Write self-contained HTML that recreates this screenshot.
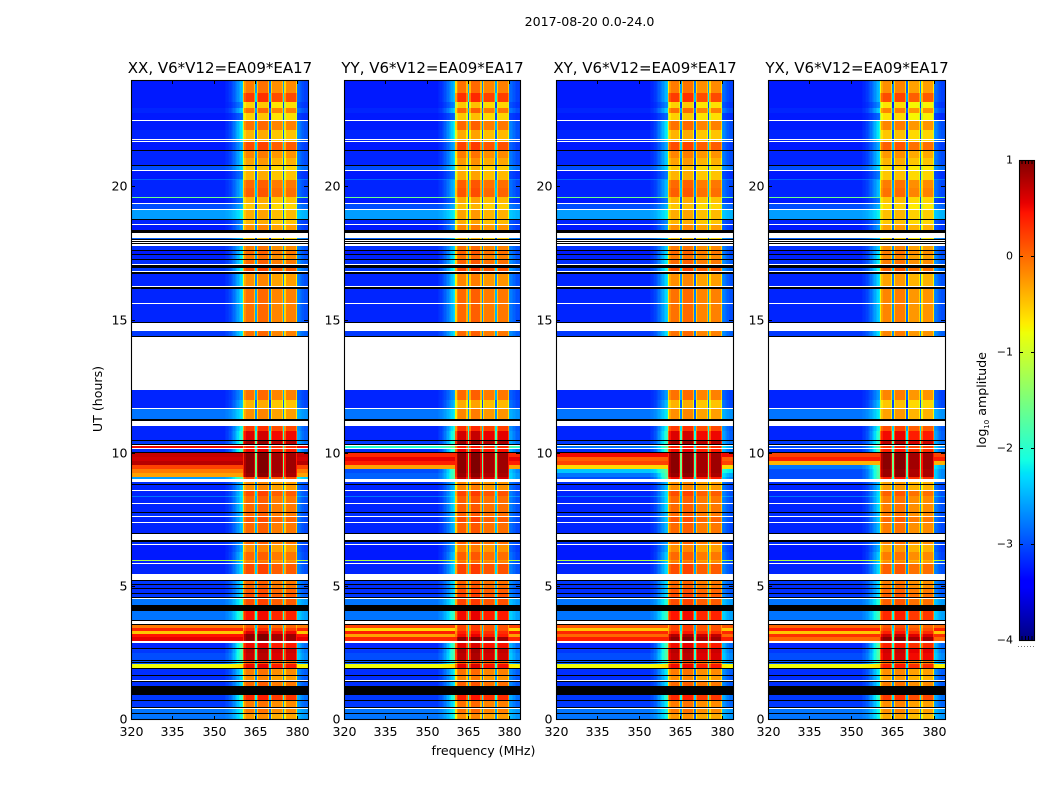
<!DOCTYPE html>
<html>
<head>
<meta charset="utf-8">
<title>2017-08-20 0.0-24.0</title>
<style>
html,body{margin:0;padding:0;background:#fff}
svg{display:block}
text{font-family:"DejaVu Sans","Liberation Sans",sans-serif;fill:#000}
</style>
</head>
<body>
<svg id="fig" xmlns="http://www.w3.org/2000/svg" width="1050" height="800" viewBox="0 0 1050 800">
<rect x="0" y="0" width="1050" height="800" fill="#fff"/>
<text x="589.5" y="26" font-size="12.6" text-anchor="middle">2017-08-20 0.0-24.0</text>
<text x="483.5" y="755" font-size="12.6" text-anchor="middle">frequency (MHz)</text>
<text x="102" y="399" font-size="12.6" text-anchor="middle" transform="rotate(-90 102 399)">UT (hours)</text>
<text x="986" y="400" font-size="12.6" text-anchor="middle" transform="rotate(-90 986 400)">log<tspan font-size="7" dy="3">10</tspan><tspan dy="-3"> amplitude</tspan></text>
</svg>
<script>
// Axis tick labels
const mhzTicks = [320, 335, 350, 365, 380];
const hourTicks = [0, 5, 10, 15, 20];
const ampTicks = [-4, -3, -2, -1, 0, 1];

// Panel titles
const panelTitles = ["XX, V6*V12=EA09*EA17", "YY, V6*V12=EA09*EA17", "XY, V6*V12=EA09*EA17", "YX, V6*V12=EA09*EA17"];

// Frequency channels are 0.5 MHz wide; UT is counted in 0.0375 h samples
const channelCount = 128;
const channelStartMHz = 320;
const channelWidthMHz = 0.5;
const sampleHours = 0.0375;

// Estimated rise of the noise floor toward the passband per channel (0..1)
const edgeLift = [
  0,0,0,0,0,0,0,0,0,0,0,0,0,0,0,0,
  0,0,0,0,0,0,0,0,0,0,0,0,0,0,0,0,
  0,0,0,0,0,0,0,0,0,0,0,0,0,0,0,0,
  0,0,0,0,0,0,0,0,0,0,0,0,0,0,0,0,
  0,0,0,0,.04,.07,.1,.15,.2,.27,.35,.43,.52,.6,.7,.8,
  .9,0,0,0,0,0,0,0,0,0,0,0,0,0,0,0,
  0,0,0,0,0,0,0,0,0,0,0,0,0,0,0,0,
  0,0,0,0,0,0,0,0,.45,.4,.35,.3,.25,.2,.2,.2
];

// Passband occupies channels 81..119: log amplitude offset per channel
const passFirstChannel = 81;
const passShape = [
  -.6,-.15,0,0,0,0,0,0,-.4,
  -2.5,
  -.4,.05,.05,.05,.05,.05,.05,.05,-.4,
  -2.7,
  -.5,-.1,-.1,-.1,-.1,-.1,-.1,-.1,-.4,
  -2.5,
  -.5,-.08,-.08,-.08,-.08,-.08,-.08,-.08,-.5
];

// UT sample at the top of each observed row, with floor, band-edge and passband log amplitude
const rowTop = [640,627,618,612,607,599,590,578,569,562,
  554,549,541,540,532,523,522,516,510,500,
  495,487,474,469,465,460,452,446,431,416,
  389,330,320,311,294,289,279,271,238,235,
  229,224,223,207,203,197,178,175,168,160,
  159,156,139,135,131,126,121,109,77,71,
  67,59,56,51,44,38,25,19,11,6];
const rowFloor = [-3.25,-3.25,-3.25,-3.2,-3.25,-3.25,-3.2,-3.25,-3.2,-3.2,
  -3,-3.25,-2.9,-3.2,-3.2,-1.6,-3.25,-3,-2.6,-3.2,
  -3.25,-2.9,-3.15,-3.25,-3.2,-3.15,-3.1,-3.2,-3.2,-3.2,
  -3.1,-3.2,-3.2,-2.8,-3.2,-3.2,-3.1,-3.15,-3.15,-3.2,
  -3.2,-2.8,-3.2,-3.15,-3.2,-3.2,-3.15,-3.25,-3.25,-1.2,
  -3.2,-3.2,-3.1,-3.15,-3.15,-3.1,-2.8,-2.8,-3.2,-3.1,
  -3,-2.95,-.8,-3.15,-3.15,-3.15,-3.1,-3.1,-2.8,-2.8];
const rowEdge = [-2.3,-2.3,-2.6,-2.2,-2.8,-2,-2,-2.4,-2.2,-2.2,
  -2.2,-2.7,-2.5,-2.3,-2.3,-1.6,-2.7,-2.4,-2.1,-2.6,
  -2.5,-2.3,-2.2,-2.1,-2,-2,-1.9,-2.1,-2.1,-2.2,
  -2.1,-2.5,-2.3,-2.1,-1.9,-1.7,-1.7,-1.6,-2.3,-2.3,
  -2.1,-2.1,-2.1,-2.3,-2.2,-2.3,-2.5,-2.4,-2.2,-1,
  -2.2,-2.1,-2.1,-2.2,-2.2,-2.1,-1.9,-1.7,-1.5,-1.5,
  -1.5,-1.6,-.6,-2,-2.1,-2.1,-1.7,-2,-2,-2];
const rowPass = [-.1,.25,-.55,-.05,-.55,-.05,-.4,.15,-.15,-.3,
  -.5,-.4,-.4,0,.05,-.4,-.4,-.5,-.35,-.4,
  -.2,-.5,-.1,0,-.1,0,.15,-.2,-.05,-.05,
  -.05,-.05,-.4,-.2,.25,.6,.85,.5,-.2,-.2,
  .15,0,0,0,.1,0,0,-.2,0,-.2,
  -.1,.15,0,0,.1,.15,.15,.45,.5,.75,
  .7,.1,.5,-.1,-.2,0,.35,-.1,-.1,-.25];

// Overall passband offset per polarisation
const panelPassShift = [0, .05, 0, -.1];

// Strong interference rows, which differ between polarisations
const rfiTop = [274,267,263,259,255,251,247,243,95,92,89,86,83];
const rfiLength = [2,4,4,4,4,4,4,2,3,3,3,3,4];
const rfiEdge = -1.5;
const rfiFloorXX = [.5,.7,.65,.75,.2,-.1,-.3,-2.6,-.1,.35,-.5,.45,.55];
const rfiFloorYY = [-2,.35,.55,.4,-.3,-3,-2.9,-2.9,.2,-.6,.4,-.3,.35];
const rfiFloorXY = [-2.8,.5,.05,.2,-.6,-2.4,-2.8,-3,.1,-.5,.35,0,.4];
const rfiFloorYX = [-3,.2,.4,-.4,-2.8,-3,-3,-3,0,.4,-.5,.3,0];
const rfiPassXX = [.4,.95,.95,.95,.95,.95,.9,.2,.1,.3,.6,.95,.95];
const rfiPassYY = [.4,.95,.95,.95,.95,.95,.9,.7,.2,.2,.4,.5,.95];
const rfiPassXY = [.4,.95,.95,.95,.95,.95,.9,.5,.2,.2,.4,.8,.95];
const rfiPassYX = [.3,.95,.95,.95,.95,.9,.9,.4,.1,.2,.4,.7,.95];

// Flagged rows with no data (white) and zero amplitude (black)
const whiteGapTop = [600,581,579,550,517,511,496,487,480,478,476,456,449,434,417,397,383,312,299,275,272,241,230,217,204,198,186,176,157,146,122,99,79,40,12];
const whiteGapLength = [1,1,1,1,1,1,1,5,1,1,2,1,1,1,1,8,53,1,5,1,1,3,1,1,1,1,6,1,1,6,1,3,2,1,1];
const blackGapTop = [570,555,501,490,481,479,477,470,466,461,455,448,433,398,384,301,280,276,268,236,208,187,180,140,136,132,127,123,115,100,96,72,60,58,52,45,39,34,20,13,7];
const blackGapLength = [1,1,1,3,1,1,1,1,1,1,3,2,2,1,1,2,1,1,1,1,1,1,2,1,1,1,1,1,6,1,1,1,1,1,1,1,1,9,1,1,1];

// Layout
const panelLeft = [131, 344, 556, 768];
const panelWidths = [177, 176, 177, 177];
const plotTop = 80, plotBottom = 720;
const xMin = 320, xMax = 384, yMax = 24;
const barLeft = 1019, barRight = 1035, barTop = 160, barBottom = 640;
const rfiFloors = [rfiFloorXX, rfiFloorYY, rfiFloorXY, rfiFloorYX];
const rfiPasses = [rfiPassXX, rfiPassYY, rfiPassXY, rfiPassYX];

const NS = "http://www.w3.org/2000/svg";
const fig = document.getElementById("fig");

function make(tag, attrs, parent) {
  const el = document.createElementNS(NS, tag);
  for (const k in attrs) el.setAttribute(k, attrs[k]);
  parent.appendChild(el);
  return el;
}
function xScale(left, width, mhz) { return left + (mhz - xMin) * width / (xMax - xMin); }
function yScale(hour) { return plotBottom - hour * (plotBottom - plotTop) / yMax; }
function ampScale(v) { return barBottom - (v + 4) * (barBottom - barTop) / 5; }

function jet(v) {
  const t = Math.max(0, Math.min(1, (v + 4) / 5));
  function lerp(pts) {
    for (let i = 1; i < pts.length; i++) {
      if (t <= pts[i][0]) {
        const a = pts[i - 1], b = pts[i];
        return a[1] + (b[1] - a[1]) * (t - a[0]) / (b[0] - a[0]);
      }
    }
    return pts[pts.length - 1][1];
  }
  const r = lerp([[0,0],[.35,0],[.66,1],[.89,1],[1,.5]]);
  const g = lerp([[0,0],[.125,0],[.375,1],[.64,1],[.91,0],[1,0]]);
  const b = lerp([[0,.5],[.11,1],[.34,1],[.65,0],[1,0]]);
  return "rgb(" + Math.round(r * 255) + "," + Math.round(g * 255) + "," + Math.round(b * 255) + ")";
}

function cellValue(ch, floor, edge, pass) {
  const p = ch - passFirstChannel;
  if (p >= 0 && p < passShape.length) return pass + passShape[p];
  return floor + Math.max(0, edge - floor) * edgeLift[ch];
}

function drawRow(group, left, width, topSample, length, floor, edge, pass) {
  const y0 = Math.round(yScale(topSample * sampleHours));
  const y1 = Math.round(yScale((topSample - length) * sampleHours));
  let ch = 0;
  while (ch < channelCount) {
    const value = cellValue(ch, floor, edge, pass);
    let end = ch + 1;
    while (end < channelCount && cellValue(end, floor, edge, pass) === value) end++;
    const x0 = Math.round(xScale(left, width, channelStartMHz + ch * channelWidthMHz));
    const x1 = Math.round(xScale(left, width, channelStartMHz + end * channelWidthMHz));
    if (x1 > x0) {
      const cell = make("rect", {x: x0, y: y0, width: x1 - x0, height: y1 - y0, fill: jet(value)}, group);
      
      
    }
    ch = end;
  }
}

function drawGap(group, left, width, topSample, length, color) {
  const y0 = Math.round(yScale(topSample * sampleHours));
  const y1 = Math.round(yScale((topSample - length) * sampleHours));
  const gap = make("rect", {x: left, y: y0, width: width, height: y1 - y0, fill: color}, group);
  
  
}

panelTitles.forEach(function (title, p) {
  const left = panelLeft[p];
  const width = panelWidths[p];
  const panel = make("g", {}, fig);
  
  

  const heat = make("g", {"shape-rendering": "crispEdges"}, panel);
  
  

  rowTop.forEach(function (top, r) {
    const next = r + 1 < rowTop.length ? rowTop[r + 1] : 0;
    drawRow(heat, left, width, top, top - next, rowFloor[r], rowEdge[r], rowPass[r] + panelPassShift[p]);
  });
  rfiTop.forEach(function (top, r) {
    drawRow(heat, left, width, top, rfiLength[r], rfiFloors[p][r], rfiEdge, rfiPasses[p][r]);
  });
  whiteGapTop.forEach(function (top, g) { drawGap(heat, left, width, top, whiteGapLength[g], "#fff"); });
  blackGapTop.forEach(function (top, g) { drawGap(heat, left, width, top, blackGapLength[g], "#000"); });

  const frame = make("rect", {x: left + .5, y: plotTop + .5, width: width, height: plotBottom - plotTop - 1, fill: "none", stroke: "#000", "stroke-width": 1.1}, panel);
  
  

  const ticks = make("g", {stroke: "#000", "stroke-width": 1, "shape-rendering": "crispEdges"}, panel);
  
  

  mhzTicks.forEach(function (m) {
    const x = Math.round(xScale(left, width, m)) + .5;
    make("line", {x1: x, x2: x, y1: plotBottom, y2: plotBottom - 4}, ticks);
    make("line", {x1: x, x2: x, y1: plotTop, y2: plotTop + 4}, ticks);
    const label = make("text", {x: x, y: 736, "font-size": 12.6, "text-anchor": "middle"}, panel);
    label.textContent = String(m);
    
    
  });
  hourTicks.forEach(function (h) {
    const y = Math.floor(yScale(h)) + (h === 0 ? -.5 : .5);
    make("line", {x1: left, x2: left + 4, y1: y, y2: y}, ticks);
    make("line", {x1: left + width, x2: left + width - 4, y1: y, y2: y}, ticks);
    const label = make("text", {x: left - 3.5, y: y + 4, "font-size": 12.6, "text-anchor": "end"}, panel);
    label.textContent = String(h);
    
    
  });

  const heading = make("text", {x: left + width / 2 + .5, y: 73, "font-size": 15, "text-anchor": "middle"}, panel);
  heading.textContent = title;
  
  
});

// Colorbar
const bar = make("g", {"shape-rendering": "crispEdges"}, fig);


for (let y = barTop; y < barBottom; y++) {
  const v = -4 + (barBottom - y - .5) * 5 / (barBottom - barTop);
  const strip = make("rect", {x: barLeft, y: y, width: barRight - barLeft, height: 1, fill: jet(v)}, bar);
  
  
}
const barFrame = make("rect", {x: barLeft + .5, y: barTop + .5, width: barRight - barLeft - 1, height: barBottom - barTop, fill: "none", stroke: "#000", "stroke-width": 1.1}, fig);



const barTicks = make("g", {stroke: "#000", "stroke-width": 1, "shape-rendering": "crispEdges"}, fig);


ampTicks.forEach(function (v) {
  const y = Math.min(barBottom, Math.round(ampScale(v))) + .5;
  make("line", {x1: barLeft, x2: barLeft + 4, y1: y, y2: y}, barTicks);
  make("line", {x1: barRight, x2: barRight - 4, y1: y, y2: y}, barTicks);
  const label = make("text", {x: barLeft - 6, y: y + 3, "font-size": 11, "text-anchor": "end"}, fig);
  label.textContent = String(v).replace("-", "\u2212");
  
  
});
for (let i = 1; i <= 4; i++) {
  const x = barLeft + i * (barRight - barLeft) / 5;
  make("line", {x1: x, x2: x, y1: barTop, y2: barTop + 4}, barTicks);
  make("line", {x1: x, x2: x, y1: barBottom, y2: barBottom - 4}, barTicks);
}
const dots = make("line", {x1: 1018, x2: 1035, y1: 646.5, y2: 646.5, stroke: "#777", "stroke-width": 1, "stroke-dasharray": "1 2"}, fig);


</script>
</body>
</html>
